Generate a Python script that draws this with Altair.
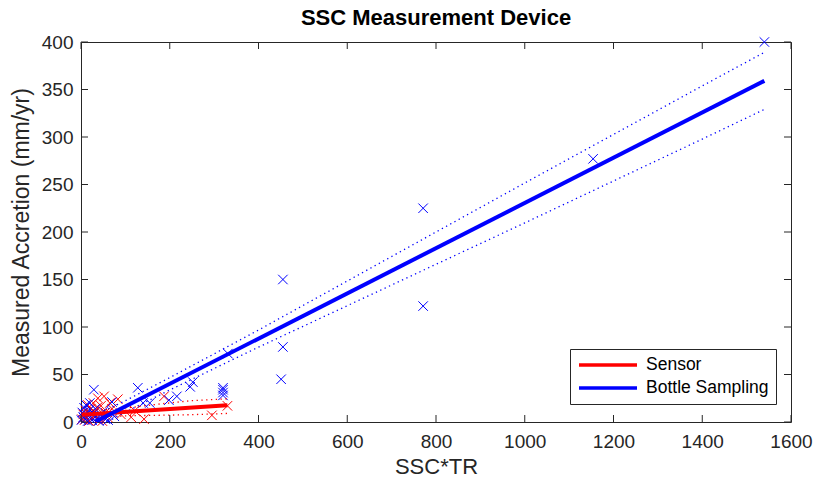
import altair as alt
import pandas as pd

# ---------------- data ----------------
sensor_x = [2, 5, 8, 10, 12, 15, 18, 20, 22, 25, 28, 30, 33, 36, 38, 40, 45, 48,
            52, 55, 60, 65, 70, 83, 90, 113, 121, 142, 187, 295, 330]
sensor_y = [3, 8, 2, 12, 5, 18, 1, 9, 14, 4, 20, 11, 6, 15, 25, 2, 17, 1,
            27, 10, 5, 20, 14, 24, 8, 5, 12, 3, 27, 7, 17]

bottle_x = [1, 3, 5, 7, 10, 11, 13, 15, 18, 20, 22, 25, 28, 29, 32, 35, 40, 45,
            50, 55, 61, 70, 75, 128, 140, 155, 198, 216, 246, 252, 320, 320,
            320, 320, 331, 451, 455, 455, 771, 771, 1154, 1540]
bottle_y = [2, 10, 5, 15, 3, 18, 8, 1, 12, 20, 6, 2, 9, 34, 14, 4, 1, 7,
            11, 3, 2, 21, 6, 36, 20, 20, 23, 27, 37, 42, 28, 31,
            34, 36, 72, 45, 79, 150, 122, 225, 277, 400]

# fitted lines
sensor_fit_x = [2, 330]
sensor_fit_y = [7.6, 17.7]
bottle_fit_x = [32, 1540]
bottle_fit_y = [0.2, 359.1]

# dotted bounds
sensor_bound_x = [2, 60, 120, 180, 250, 330]
sensor_upper = [12.1, 13.0, 15.7, 19.1, 22.5, 24.5]
sensor_lower = [3.1, 5.9, 6.7, 7.1, 7.7, 9.0]

bottle_bound_x = [32, 100, 200, 400, 600, 800, 1000, 1200, 1400, 1540]
bottle_upper = [7.2, 22.4, 46.7, 96.8, 148.4, 200.0, 251.6, 302.7, 353.8, 389.1]
bottle_lower = [-6.8, 10.4, 33.7, 78.8, 122.4, 166.0, 209.6, 253.7, 297.8, 329.1]

series_names = ["Sensor", "Bottle Sampling"]
series_colors = ["#ff0000", "#0000ff"]
x_ticks = [0, 200, 400, 600, 800, 1000, 1200, 1400, 1600]
y_ticks = [0, 50, 100, 150, 200, 250, 300, 350, 400]

# ---------------- tables ----------------
pts = pd.DataFrame({
    "x": sensor_x + bottle_x,
    "y": sensor_y + bottle_y,
    "series": [series_names[0]] * len(sensor_x) + [series_names[1]] * len(bottle_x),
})
fits = pd.DataFrame({
    "x": sensor_fit_x + bottle_fit_x,
    "y": sensor_fit_y + bottle_fit_y,
    "series": [series_names[0]] * len(sensor_fit_x) + [series_names[1]] * len(bottle_fit_x),
})
bounds = pd.DataFrame({
    "x": sensor_bound_x * 2 + bottle_bound_x * 2,
    "y": sensor_upper + sensor_lower + bottle_upper + bottle_lower,
    "series": [series_names[0]] * (2 * len(sensor_bound_x)) + [series_names[1]] * (2 * len(bottle_bound_x)),
    "side": (["u"] * len(sensor_bound_x) + ["l"] * len(sensor_bound_x)
             + ["u"] * len(bottle_bound_x) + ["l"] * len(bottle_bound_x)),
})
xt = pd.DataFrame({"x": x_ticks})
yt = pd.DataFrame({"y": y_ticks})

FONT = "Liberation Sans"
AX = "#262626"
W, H = 710, 380
TL = 7

xs = alt.Scale(domain=[0, 1600], nice=False, zero=False)
ys = alt.Scale(domain=[0, 400], nice=False, zero=False)
cs = alt.Scale(domain=series_names, range=series_colors)

x_axis = alt.Axis(values=x_ticks, format="d", title="SSC*TR", ticks=False, domain=False, grid=False,
                  labelFont=FONT, labelFontSize=19, labelColor=AX, labelPadding=10,
                  labelOverlap=False, labelFlush=False,
                  titleFont=FONT, titleFontSize=22, titleFontWeight="normal",
                  titleColor=AX, titlePadding=5)
y_axis = alt.Axis(values=y_ticks, format="d", title="Measured Accretion (mm/yr)", ticks=False,
                  domain=False, grid=False, labelFont=FONT, labelFontSize=19, labelColor=AX,
                  labelPadding=8, labelOverlap=False, labelFlush=False,
                  titleFont=FONT, titleFontSize=23, titleFontWeight="normal",
                  titleColor=AX, titlePadding=8)
legend = alt.Legend(
    title=None, orient="none", legendX=489, legendY=307,
    symbolType="stroke", symbolSize=3364, symbolStrokeWidth=3.5,
    labelFont=FONT, labelFontSize=17.5, labelColor="#000", labelOffset=7,
    strokeColor=AX, fillColor="white", padding=7, rowPadding=5, clipHeight=18)

X = alt.X("x:Q", scale=xs, axis=x_axis)
Y = alt.Y("y:Q", scale=ys, axis=y_axis)
C = alt.Color("series:N", scale=cs, legend=legend)

XPATH = "M-1,-1L1,1M-1,1L1,-1"

points = alt.Chart(pts).mark_point(shape=XPATH, size=90, filled=False, strokeWidth=1,
                                   opacity=1).encode(x=X, y=Y, color=C)

bound_lines = alt.Chart(bounds).mark_line(strokeWidth=1.3, strokeDash=[1.3, 3.5], clip=True).encode(
    x=X, y=Y, color=C, detail="side:N")

fit_lines = alt.Chart(fits).mark_line(strokeWidth=4, clip=True).encode(x=X, y=Y, color=C)

tick_b = alt.Chart(xt).mark_rule(color=AX, strokeWidth=1).encode(
    x=X, y=alt.value(H), y2=alt.value(H - TL))
tick_t = alt.Chart(xt).mark_rule(color=AX, strokeWidth=1).encode(
    x=X, y=alt.value(0), y2=alt.value(TL))
tick_l = alt.Chart(yt).mark_rule(color=AX, strokeWidth=1).encode(
    y=Y, x=alt.value(0), x2=alt.value(TL))
tick_r = alt.Chart(yt).mark_rule(color=AX, strokeWidth=1).encode(
    y=Y, x=alt.value(W), x2=alt.value(W - TL))

chart = alt.layer(points, bound_lines, fit_lines, tick_b, tick_t, tick_l, tick_r).properties(
    width=W, height=H,
    title=alt.TitleParams("SSC Measurement Device", font=FONT, fontSize=22, fontWeight="bold",
                          color="#000", anchor="middle", frame="group", offset=3),
    autosize=alt.AutoSizeParams(type="none"),
    padding={"left": 81, "top": 42, "right": 26, "bottom": 69},
).configure(background="white").configure_view(stroke=AX, strokeWidth=1)

chart.save("out.html", embed_options={"renderer": "svg", "actions": False})
